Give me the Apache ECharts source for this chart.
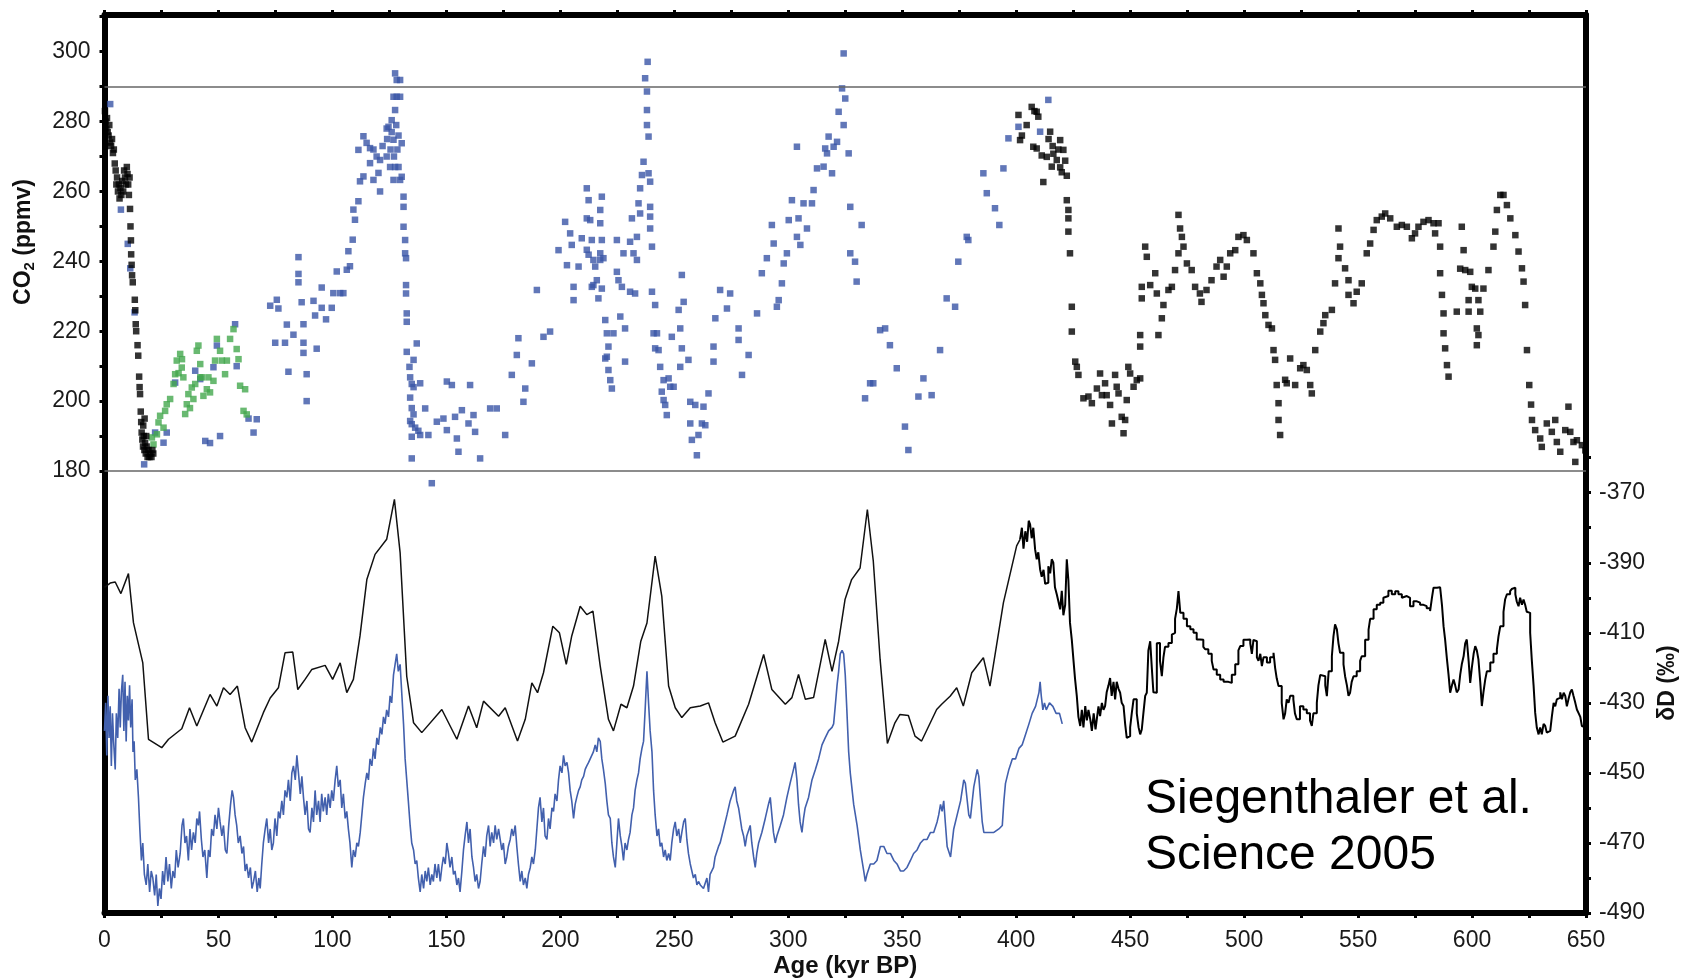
<!DOCTYPE html>
<html><head><meta charset="utf-8">
<script src="https://cdn.jsdelivr.net/npm/echarts@6/dist/echarts.min.js"></script>
<style>html,body{margin:0;padding:0;background:#fff}#c{width:1689px;height:980px}</style>
</head><body><div id="c"></div>
<script>
// ---- tick / label values ----
const xTickValues = [0,25,50,75,100,125,150,175,200,225,250,275,300,325,350,375,400,425,450,475,500,525,550,575,600,625,650];
const xLabelValues = [0,50,100,150,200,250,300,350,400,450,500,550,600,650];
const co2TickValues = [180,190,200,210,220,230,240,250,260,270,280,290,300,310];
const co2LabelValues = [180,200,220,240,260,280,300];
const dDTickValues = [-490,-480,-470,-460,-450,-440,-430,-420,-410,-400,-390,-380,-370,-360];
const dDLabelValues = [-490,-470,-450,-430,-410,-390,-370];
const co2RefLines = [290,180];

// ---- CO2 (ppmv): [age kyr BP, value] ----
const co2Holocene = [[0.2,283],[0.5,280],[0.8,278],[1.1,281],[1.4,277],[1.8,276],[2.1,279],[2.5,274],[2.9,273],[3.3,275],[3.7,271],[4.1,272],[4.5,268],[4.9,266],[5.2,262],[5.5,264],[5.9,260],[6.3,262],[6.6,258],[7,261],[7.4,259],[7.8,263],[8.2,260],[8.6,266],[9,264],[9.4,262],[9.8,267],[10.1,265],[10.4,262],[10.7,259],[11,264],[11.2,255],[11.4,250],[11.6,246],[11.7,242],[11.9,239],[12.1,236],[12.4,234],[13.3,229],[13.5,226],[13.7,222],[13.9,220],[14.5,216],[14.8,213],[15.2,207],[15.4,204],[15.6,202],[15.9,197],[16.1,194],[16.3,191],[16.6,189],[16.9,187],[17.2,190],[17.5,186],[17.8,188],[18.1,185],[18.5,187],[18.9,184],[19.3,186],[19.7,184],[20.1,185],[20.6,184],[21,186],[21.4,185],[17,193],[17.6,195],[18.3,190]];

const co2Epica = [[401,281.9],[404.6,279],[406.8,284.2],[408,283],[409,282.8],[409.7,281.4],[401.7,274.7],[402.5,276],[407.5,272.8],[409,272.3],[411.2,270.3],[411.9,262.7],[413.4,269.9],[414.2,275],[414.9,277.1],[416.3,270.8],[415.6,267.1],[417.8,269],[419.3,274.7],[420.7,271.9],[419.3,266.9],[421.5,268.8],[422.2,264.5],[420,265.5],[418.5,272],[416,273],[422.2,257.5],[422.9,254.7],[422.9,252.3],[422.9,248.5],[423.6,242.3],[424.4,227],[424.4,219.9],[425.9,211.3],[426.6,209.8],[427.3,207.5],[429.5,200.8],[431.7,201.3],[433.2,199.4],[435.4,203.6],[436.8,207.9],[437.6,201.7],[439.7,201.7],[439,205.1],[441.2,198.9],[442,193.6],[443.4,207.5],[444.1,204.1],[444.9,202.2],[446.3,195.5],[447.1,190.8],[447.8,194.6],[448.5,200.3],[449.2,209.8],[450,207.9],[451.5,204.1],[452.9,206],[454.4,206.5],[454.4,218.9],[454.4,215.6],[455.1,229.4],[455.1,232.7],[456.6,244.2],[457.3,241.3],[458.8,233.2],[461,236.6],[461.7,230.8],[462.4,218.9],[463.9,223.7],[464.6,227.5],[466.8,231.8],[468.3,232.7],[469.7,237.5],[471.2,242.3],[471.2,253.3],[471.9,249.4],[472.7,247],[473.4,244.2],[474.9,239.4],[477,237.5],[478.5,232.7],[480.6,230.8],[481.3,228.4],[483.5,231.8],[485.7,234.6],[487.9,238.5],[489.5,240.4],[491,235.6],[492.4,238.5],[493.9,242.3],[496.1,243.2],[497.5,247],[499.7,247.5],[501.2,246.1],[504.1,242.3],[505.6,236.6],[507.1,233.7],[507.8,230.4],[508.5,228],[509.3,224.6],[510.7,221.8],[512.2,220.8],[512.9,214.6],[513.6,211.8],[514.3,204.6],[515.1,199.4],[515.1,194.6],[515.8,190.3],[518,206.1],[518.7,205.1],[520.2,212.2],[522.4,204.6],[524.6,209.4],[526,210.3],[527.5,208.9],[529,204.6],[529.7,202.2],[531.2,214.6],[533.4,219.9],[534.8,222.3],[535.6,224.6],[538.5,226.1],[539.9,233.7],[541.4,249.4],[542.1,244.2],[541.4,240.9],[544.3,238],[545.8,234.6],[545.8,230.4],[548,228],[549.4,231.3],[551.6,233.7],[553.8,242.3],[555.3,245.1],[556.8,249],[558.2,251.8],[560.4,252.8],[561.9,253.7],[564.1,252.3],[567,249.9],[569.2,250.4],[571.4,249.9],[573.6,246.6],[575,248],[576.5,249.9],[578.7,251.3],[580.9,251.8],[583.1,250.9],[583.8,248],[585.3,250.9],[586,244.2],[586,236.6],[586.8,230.4],[587.5,225.1],[587.5,219.4],[588.2,215.1],[589,210.3],[589.7,207],[593.3,225.6],[595.5,249.9],[596.3,243.2],[594.8,237.9],[597,237.5],[599.2,237],[599.9,232.7],[601.4,232.2],[598.5,228.9],[598.5,225.6],[602.8,228.9],[603.6,225.6],[602.1,220.8],[602.8,218.9],[602.1,216],[605,232.2],[607.2,237.5],[609.4,244.2],[610.2,248.5],[610.9,254.7],[612.4,259],[613.8,259],[615.3,256.1],[616.8,252.3],[619,247.5],[620.4,242.8],[621.9,238],[622.6,234.2],[623.3,227.5],[624.1,214.6],[625.1,204.6],[625.9,199],[626.3,194.6],[627.7,191.7],[629.9,189.3],[630.6,186.9],[632.8,193.6],[635,191.2],[636.5,194.6],[637.2,188.3],[638.7,185.5],[640.9,191.7],[642.3,198.4],[643.1,191.2],[644.5,188.3],[645.3,182.6],[646,188.8],[648.2,187.4],[649.7,185.9]];

const co2Vostok = [[2.5,285],[7.2,254.8],[10.2,245],[11.3,238],[13.2,225.4],[17.4,181.9],[22.2,191],[25.9,188.1],[27.3,191],[31,205.3],[39.8,208.7],[42,206.3],[44.2,188.6],[46.3,188],[50.7,190],[49.3,215.9],[47.8,209.7],[57.3,222],[58,210],[63.2,195],[65.4,191],[66.8,194.8],[72.7,227.3],[75.6,229],[76.3,226.5],[74.9,216.7],[79.2,216.7],[80,221.9],[82.9,219],[80.7,208.4],[85.1,241.2],[85.1,236.4],[85.1,234],[86.5,228.3],[87.3,222],[88.7,207.7],[88.7,200],[87.3,216.7],[87.3,213.8],[91.7,228.7],[92.4,224.5],[93.1,215],[95.3,232.5],[95.3,226.7],[97.2,223.4],[99.7,226.7],[100.4,230.9],[101.9,237.1],[103.4,230.9],[104.8,230.9],[106.3,237.6],[107.7,238.6],[107,242.9],[108.9,246.2],[109.9,251.9],[109.2,254.8],[111.4,257.2],[112.1,262.9],[113.6,264.3],[111.4,271.9],[113.6,275.8],[115,273.9],[116.5,272.4],[118,272],[119.4,270],[120.9,269],[116.5,268.1],[120.2,265.3],[120.9,260],[118,263.3],[123.8,278],[124.6,278.5],[126,280.4],[127.5,283.3],[126.8,287.1],[128.2,287.1],[127.5,293.8],[128.2,291.9],[126.8,274.8],[123.8,270],[125.3,267],[127.5,267],[129,267],[129.7,263.3],[126.8,263.3],[122,273],[124,275],[125.5,272],[127,270],[128.5,272],[129,276],[128,279],[126,277],[129.7,291.9],[129.7,287.1],[130.4,273.8],[130.4,264.2],[131.2,258.5],[131.2,255.6],[131.2,249.9],[131.9,246.1],[131.9,242.3],[132.3,240.9],[132.3,233.2],[132.3,230.8],[132.6,225.1],[132.6,222.7],[132.6,214.1],[137,216.5],[135.6,211.8],[133.8,209.8],[134.1,206.8],[134.8,204.9],[135.6,204],[134.1,201],[134.8,198],[135.6,196.2],[134.1,194.3],[134.8,193.4],[136.3,192.4],[137.7,191.5],[138.5,205.1],[134.8,189.8],[134.8,183.6],[138.5,190.3],[142.1,190.3],[143.6,176.5],[140.7,197.9],[145.8,194.1],[148.7,195],[150.2,205.6],[152.4,204.6],[150.2,191.7],[153.8,195.5],[154.6,189.3],[155.3,185.5],[156.8,197.4],[159.7,193.6],[160.4,204.6],[161.9,196],[162.6,191.2],[164.8,183.6],[169.2,197.9],[172.1,197.9],[175.8,190.3],[178.7,207.5],[180.9,213.2],[181.6,218],[184.6,203.6],[183.8,199.8],[187.5,210.8],[189.7,231.8],[192.6,218.4],[195.5,219.9],[199.2,243.2],[202.1,251.3],[204.3,248],[205,244.7],[202.9,238.9],[205.8,232.7],[205.8,228.9],[208,238.5],[209.4,246.6],[211.6,260.9],[212.4,257.5],[211.6,252.3],[213.1,251.8],[211.6,243.3],[212.4,241.9],[213.8,246.1],[214.5,240.4],[215.3,238.5],[214.5,233.2],[213.8,232.7],[216,234.6],[216.7,229.4],[217.5,242.3],[218.2,258.5],[217.5,254.7],[217.5,250.9],[218.2,246.1],[217.5,240.4],[218.9,240.9],[218.2,232.2],[219.7,223.2],[220.4,219.4],[221.1,215.6],[220.4,212.7],[221.1,208.9],[221.9,206],[222.6,203.6],[223.3,219.4],[219.7,212.2],[224.8,246.1],[226.3,224.2],[227.7,242.3],[228.4,220.8],[228.4,211.3],[224.8,237],[225.5,234.6],[227,232.7],[230.6,231.3],[230.6,245.6],[231.4,252.3],[232.1,242.3],[232.8,230.8],[233.6,247],[233.6,240.4],[234.3,256.6],[235,253.7],[235,260.9],[235.8,264.7],[236.5,268.5],[238,283.3],[238.7,275.7],[238,279],[238,288.6],[237.2,292.4],[238.3,297.1],[238.7,265.2],[239.4,262.8],[239.4,255.6],[239.4,252.8],[239.4,249.4],[240.2,244.2],[240.2,231.3],[241.6,227.5],[240.9,219.4],[241.6,215.1],[243.1,214.6],[242.4,219.4],[243.8,209.8],[245.3,206],[244.5,202.7],[245.3,200.3],[246,198.9],[246.7,196],[247.5,206.5],[248.2,204.1],[249.7,204.1],[248.9,218.4],[251.9,226.1],[252.6,220.8],[254.1,228.4],[253.3,215.1],[252.6,209.8],[256.2,211.8],[253.3,236.1],[257,199.8],[257,193.6],[257.7,188.9],[259.2,198.9],[259.9,184.5],[260.6,190.3],[262.1,193.6],[262.8,198.4],[263.6,193.1],[265,202.2],[267.2,211.3],[267.2,215.6],[268,223.7],[270.1,231.8],[274.5,230.8],[273.1,226.5],[278.2,220.8],[278.2,217.5],[279.7,207.5],[282.6,213.2],[286.3,225.1],[288.4,236.6],[290.6,240.9],[292.8,250.4],[293.6,245.1],[295,227],[295.8,228.9],[297.2,233.7],[298,239.4],[299.4,242.3],[300.2,251.8],[301.6,257.5],[304.5,252.3],[303.8,247],[305.3,244.7],[308.2,249.4],[306.7,256.6],[310.4,256.6],[311.1,260.4],[312.6,266.6],[315.5,267.1],[317,270.9],[316.2,272.3],[319.9,272.8],[321.4,274.2],[319.2,265.2],[303.8,272.8],[317.7,275.7],[322.1,282.8],[324.3,279],[325,286.6],[323.6,289.5],[324.3,299.5],[326.5,270.9],[327.2,255.6],[327.2,242.3],[332.2,250.4],[329.3,239.9],[330,234.2],[340.3,220.3],[342.5,220.8],[344.6,216],[347.6,209.4],[335.9,205.1],[333.7,200.8],[337.3,205.1],[351.2,192.7],[352.7,186],[357.1,201.3],[359.3,206.5],[362.9,201.7],[366.6,214.6],[369.5,229.4],[373.2,227],[374.6,239.9],[379,246.1],[378.3,247],[385.6,265.2],[387.1,259.5],[390.7,255.2],[392.6,250.4],[394.4,266.6],[396.6,275.2],[401,278.5],[410.5,277.1],[414.1,286.2]];

const co2Green = [[20.8,189.6],[21.5,187.6],[23,190.5],[23.7,193.9],[24.4,195.8],[25.9,192.4],[26.6,197.2],[27.3,199.1],[28.8,200.6],[30.3,204.9],[31,207.7],[31.7,211.6],[33.2,213.5],[33.9,209.6],[34.6,206.8],[35.4,196.3],[36.1,199.1],[36.8,202],[38.3,203.9],[39,200.6],[39.8,204.9],[40.5,214.4],[41.2,215.9],[42,210.6],[42.7,206.8],[43.4,201.5],[44.9,203.4],[45.6,206.8],[46.3,202.5],[47.8,205.8],[48.5,211.6],[49.3,217.8],[50.7,214.4],[51.5,211.6],[52.9,207.7],[53.7,211.6],[55.1,217.8],[56.6,220.6],[58,214.9],[58.8,212],[59.5,204.4],[61.7,203.4],[61,197.2],[62.4,196.2],[42,206.8],[32.5,208],[34,212],[37.5,198]];

// ---- deltaD (permil): [age kyr BP, value] ----
const dDEpicaSmooth = [[0,-397],[0.7,-396.7],[2.5,-395.8],[4.7,-395.5],[7.2,-398.8],[10.5,-393.1],[12.7,-407.1],[16.8,-418.6],[19.3,-440.4],[25.1,-442.8],[28.1,-440.4],[33.9,-437.4],[37.3,-431.4],[40.5,-436.6],[46.3,-427.6],[49.3,-430.9],[52.2,-425.7],[55.1,-427.6],[58.3,-425.2],[61.7,-437.1],[64.6,-441.2],[69.7,-432.8],[72.7,-428.6],[76.3,-425.7],[79.2,-415.7],[82.6,-415.5],[84.8,-426.2],[88,-423.3],[90.9,-420.5],[96.8,-419.3],[100.1,-423.3],[103.4,-418.6],[106.3,-427.1],[109.2,-423.3],[112.1,-410.9],[115.1,-394.8],[118.7,-387.6],[123.8,-383.3],[127.2,-371.9],[129.7,-387.1],[132.6,-422.4],[135.6,-435.7],[139.2,-438.5],[148,-431.9],[154.6,-440.4],[159.7,-430.9],[163.3,-437.1],[166.3,-429.5],[172.9,-433.8],[175.8,-431.4],[181.2,-440.9],[184.6,-434.7],[187.5,-424.3],[190,-427.1],[192.6,-421.4],[196.7,-408.1],[199.6,-410],[202.6,-419],[205,-410.9],[208.7,-402.4],[211.6,-404.8],[214.3,-403.8],[217.5,-419.5],[221.1,-434.7],[223.3,-438],[226.6,-430.4],[229.2,-431.4],[232.1,-425.2],[235.3,-412.4],[238,-407.2],[241.6,-388.1],[244.5,-399.5],[247.5,-425.2],[250.4,-431.4],[253.3,-434.2],[257,-431.4],[261.4,-430.9],[265,-430],[267.9,-435.7],[271.3,-441.2],[276.7,-439.5],[282.6,-430.4],[289.2,-416.2],[292.8,-426.2],[298.7,-430.4],[301.6,-428.5],[304.5,-421.9],[307.5,-429],[311.1,-428.5],[316.2,-411.9],[319.2,-421],[322.1,-412.4],[324.9,-400.5],[327.8,-394.8],[331.5,-391.5],[334.7,-374.8],[337.3,-389.5],[340.3,-417.6],[343.5,-441.6],[346.8,-435.7],[349,-433.3],[352.7,-433.6],[355.6,-439.5],[358.5,-440.9],[365.1,-431.9],[367.3,-430.4],[371,-428.1],[373.9,-425.7],[376.8,-430.9],[380.5,-421.4],[385.6,-417.1],[388.5,-425.2],[394.4,-401.4],[400.2,-385.2],[401.7,-383.3]];

const dDEpicaStep = [[401.7,-383.3],[402.5,-380],[403.2,-386],[404,-381],[404.8,-384],[405.5,-378],[406.1,-379],[406.8,-383],[407.5,-380],[408.3,-386.2],[409,-389],[409.7,-387],[410.5,-391.9],[411.2,-394],[412,-392],[412.7,-396],[413.4,-395.7],[414.1,-391],[414.9,-393],[415.6,-389],[416.3,-390],[417,-397],[417.8,-399],[418.5,-401],[419.3,-403.3],[420,-398],[420.7,-405],[421.5,-402],[422.2,-389],[422.9,-395],[423.6,-407.1],[424.4,-412],[425.1,-417.6],[425.8,-423],[426.6,-428.1],[427.3,-434],[428.1,-436.6],[428.8,-432],[429.5,-437],[430.3,-430.9],[431,-435],[431.7,-432],[432.5,-434.7],[433.2,-438],[434,-433],[434.8,-437.6],[435.5,-434],[436.1,-431],[436.8,-433.8],[437.6,-430],[438.3,-432],[439,-430.9],[439.7,-427],[440.5,-425],[441.2,-422.9],[441.9,-428],[442.7,-424],[443.4,-429],[444.1,-424],[444.9,-426],[445.6,-427.1],[446.3,-430],[447.1,-430.9],[447.8,-436],[448.5,-440],[449.2,-439.5],[450,-437],[450.7,-433],[451.5,-429],[452.9,-433],[453.7,-437],[454.4,-439],[455.1,-437.6],[455.8,-433],[456.6,-428],[457.3,-427.1],[458,-415],[458.8,-412.4],[459.5,-420],[460.2,-427],[461,-427.1],[461.7,-413],[462.4,-412.9],[463.1,-418],[463.9,-422.4],[464.6,-417],[465.3,-414],[466.8,-412.9],[468.3,-410.5],[469,-410],[469.7,-406],[470.5,-403],[471.2,-398.1],[472,-404.3],[473.4,-406],[474.9,-408.1],[476.4,-409],[477.8,-410],[479.2,-411.9],[480.6,-412],[482.1,-414],[482.9,-414.7],[484.3,-416],[485.8,-418],[486.6,-420.5],[488,-422],[489.5,-423.3],[491,-424],[493.1,-424.3],[494.6,-422],[496.1,-419],[497.5,-415],[498.3,-413.8],[499.7,-412],[501.2,-411.9],[502.7,-413],[503.4,-416],[504.1,-412],[504.8,-412.4],[505.6,-417],[506.3,-418],[507.1,-416],[507.8,-419.5],[508.5,-417],[510,-418.5],[511.4,-417],[512.9,-415.7],[513.6,-420],[514.3,-423],[515.1,-425.2],[516.5,-430],[517.3,-434.7],[518,-433],[518.7,-429],[519.5,-430],[520.2,-428],[521.6,-429],[522.3,-433],[523.1,-434.7],[524.5,-431],[526,-431.9],[527.5,-433],[528.9,-435],[529.7,-436.6],[530.4,-433],[531.9,-430],[532.6,-425],[533.4,-422],[534.1,-422.4],[535.6,-425],[536.3,-428.1],[537.1,-421],[538.5,-416.7],[539.2,-411],[539.9,-407.6],[540.7,-409],[541.4,-413],[542.1,-415.7],[543.6,-419],[544.3,-422.4],[545.1,-425],[545.8,-428],[546.5,-427.1],[547.2,-424],[548,-422.4],[549.4,-421],[550.9,-418],[551.6,-416.7],[553.1,-412],[554.6,-409.1],[555.3,-406],[556.8,-403.3],[558.2,-402],[559.7,-401.4],[561.1,-400],[561.9,-399.5],[563.3,-398],[564.8,-399],[566.3,-398.1],[567.7,-399],[569.2,-400],[569.9,-399.5],[571.4,-400],[572.8,-402.4],[574.3,-401],[575.8,-401.4],[577.2,-402],[578.7,-402.4],[580.1,-403],[581.6,-403.8],[582.4,-400],[583.1,-397.1],[584.6,-397],[586,-397.1],[586.8,-402],[587.5,-408.1],[588.2,-412],[589,-417.6],[589.7,-422],[590.4,-427.1],[591.2,-425],[591.9,-423.3],[592.6,-425],[593.3,-427],[594.1,-426.2],[594.8,-422],[595.5,-419],[596.3,-416.7],[597,-413],[597.7,-411.9],[598.5,-418],[599.2,-424.3],[599.9,-420],[600.7,-416],[601.4,-413.8],[602.1,-415],[602.8,-417.6],[603.6,-424],[604.3,-430.9],[605,-427],[605.8,-423.3],[606.5,-421],[608,-418.5],[609.4,-416],[610.9,-414.7],[611.6,-411],[612.4,-408.1],[613.8,-404],[614.5,-400.5],[615.3,-399],[616.7,-398.1],[617.4,-397.5],[618.2,-397.1],[619,-399],[619.6,-401],[620.4,-402.4],[621.1,-400],[621.9,-402],[622.6,-400.5],[623.3,-402],[624,-404],[624.8,-404.3],[625.5,-410],[626.2,-417.6],[627,-425],[627.7,-432.8],[628.4,-437],[629.2,-439],[629.9,-437],[630.6,-439],[631.4,-436],[632.1,-436.6],[632.8,-438.5],[633.6,-438],[634.3,-438.5],[635,-434],[635.8,-430],[636.5,-431],[637.2,-429],[637.9,-428.5],[638.7,-427],[639.4,-429],[640.2,-427.1],[640.9,-428],[641.6,-431],[642.3,-429],[643.1,-427],[643.8,-426.2],[644.5,-428],[645.3,-430],[646,-431.9],[646.8,-433],[647.5,-434],[648.2,-436.6],[649,-437],[649.7,-438.5],[650,-438.5]];

const dDVostok = [[0,-438],[0.5,-430],[1,-445],[1.5,-428],[2,-440],[2.5,-431],[3,-448],[3.5,-433],[4,-441],[4.7,-449],[5.2,-433],[5.8,-440],[6.4,-426],[6.9,-437],[7.4,-427],[8,-422],[8.5,-438],[9,-424],[9.5,-441],[10,-428],[10.5,-435],[11,-425],[11.5,-437],[12.1,-429],[12.5,-444],[13,-441],[13.5,-452],[14.2,-449],[14.9,-457],[15.5,-466],[16.2,-475],[16.8,-470],[17.5,-479],[18.3,-482],[19,-476],[19.8,-484],[20.5,-478],[21.2,-480],[22,-485],[22.7,-479],[23.4,-488],[24.1,-483],[24.8,-486],[25.5,-478],[26.2,-482],[27,-474],[27.8,-481],[28.5,-476],[29.3,-483],[30,-478],[30.8,-480],[31.5,-472],[32.3,-477],[33.2,-473],[34,-465],[34.6,-463],[35.3,-470],[36,-468],[36.8,-475],[37.5,-466],[38.2,-472],[39,-467],[39.8,-470],[40.5,-463],[41.2,-465],[41.7,-461],[42.5,-469],[43.2,-474],[44,-472],[44.9,-480],[45.6,-472],[46.3,-474],[47,-466],[47.8,-468],[48.5,-462],[49.3,-466],[50,-460],[50.7,-464],[51.5,-468],[52.2,-465],[53,-472],[53.7,-473],[54.5,-465],[55.3,-459],[56,-455],[56.6,-457],[57.3,-462],[58,-465],[58.7,-470],[59.5,-468],[60.3,-473],[61,-471],[61.7,-478],[62.4,-476],[63.2,-480],[64,-477],[64.7,-483],[65.4,-481],[66.2,-478],[67,-484],[67.7,-480],[68.3,-483],[69,-476],[69.7,-470],[70.5,-466],[71.2,-463],[72,-470],[72.7,-466],[73.4,-472],[74.1,-470],[74.8,-463],[75.6,-468],[76.3,-461],[77,-463],[77.8,-458],[78.5,-462],[79.2,-455],[80,-457],[80.7,-452],[81.5,-458],[82.2,-450],[82.9,-448],[83.7,-452],[84.4,-445],[85.1,-450],[85.9,-456],[86.6,-451],[87.3,-457],[88,-462],[88.8,-458],[89.5,-466],[90.2,-467],[91,-460],[91.7,-464],[92.4,-455],[93.1,-462],[93.9,-458],[94.6,-464],[95.3,-456],[96,-461],[96.8,-457],[97.5,-462],[98.2,-456],[99,-460],[99.7,-455],[100.4,-458],[101.2,-452],[101.9,-448],[102.6,-454],[103.4,-452],[104.1,-460],[104.8,-456],[105.6,-463],[106.3,-461],[107,-466],[107.7,-470],[108.5,-477],[109.2,-472],[110,-474],[110.7,-470],[111.4,-471],[112.2,-467],[112.9,-462],[113.6,-457],[114.4,-453],[115.1,-450],[115.8,-452],[116.5,-446],[117.3,-448],[118,-443],[118.7,-446],[119.5,-440],[120.2,-442],[121,-437],[121.7,-439],[122.4,-434],[123.1,-436],[123.8,-432],[124.6,-434],[125.3,-428],[126,-430],[126.8,-422],[127.5,-419],[128.2,-416],[128.9,-421],[129.7,-419],[130.4,-427],[131.2,-436],[131.9,-446],[132.6,-452],[133.3,-458],[134.1,-465],[134.8,-470],[135.6,-472],[136.3,-476],[137,-475],[137.7,-480],[138.5,-484],[139.2,-479],[140,-483],[140.7,-478],[141.4,-481],[142.1,-477],[142.9,-482],[143.6,-479],[144.3,-481],[145,-476],[145.8,-480],[146.5,-476],[147.3,-481],[148,-477],[148.7,-474],[149.5,-476],[150.2,-470],[150.9,-473],[151.6,-477],[152.4,-474],[153.1,-479],[153.8,-478],[154.6,-482],[155.3,-480],[156,-484],[156.8,-478],[157.5,-472],[158.2,-468],[159,-464],[159.7,-470],[160.4,-466],[161.2,-474],[161.9,-477],[162.6,-481],[163.3,-479],[164.1,-483],[164.8,-481],[165.5,-476],[166.3,-471],[167,-474],[167.7,-468],[168.5,-465],[169.2,-471],[169.9,-467],[170.7,-470],[171.4,-465],[172.1,-469],[172.9,-466],[173.6,-469],[174.3,-472],[175,-470],[175.8,-476],[176.5,-474],[177.2,-471],[178,-469],[178.7,-466],[179.4,-468],[180.2,-465],[180.9,-471],[181.6,-476],[182.4,-481],[183.1,-478],[183.8,-482],[184.6,-480],[185.3,-483],[186,-479],[186.8,-477],[187.5,-474],[188.2,-476],[189,-472],[189.7,-466],[190.4,-460],[191.1,-457],[191.9,-464],[192.6,-460],[193.3,-468],[194.1,-469],[194.8,-463],[195.5,-466],[196.3,-460],[197,-461],[197.7,-456],[198.5,-458],[199.2,-452],[199.9,-448],[200.7,-450],[201.4,-445],[202.1,-448],[202.9,-447],[203.6,-450],[204.3,-455],[205,-458],[205.8,-463],[206.5,-459],[207.2,-457],[208,-455],[208.7,-454],[209.4,-452],[210.2,-451],[210.9,-449],[211.6,-448],[212.4,-447],[213.1,-446],[214.5,-444],[215.3,-442],[216,-444],[216.7,-440],[217.5,-441],[218.2,-446],[218.9,-449],[219.7,-453],[220.4,-458],[221.1,-462],[221.9,-463],[222.6,-470],[223.3,-474],[224.1,-477],[224.8,-470],[225.5,-463],[226.3,-468],[227,-471],[227.7,-475],[228.4,-470],[229.2,-472],[229.9,-469],[230.6,-467],[231.4,-462],[232.1,-460],[232.8,-455],[233.6,-452],[234.3,-450],[235,-446],[235.8,-443],[236.5,-441],[237.2,-432],[238,-421],[238.7,-430],[239.4,-438],[240.2,-444],[240.9,-455],[241.6,-462],[242.4,-468],[243.1,-466],[243.8,-471],[244.5,-470],[245.3,-474],[246,-472],[246.7,-475],[247.5,-473],[248.2,-475],[248.9,-470],[249.7,-466],[250.4,-464],[251.1,-468],[251.9,-466],[252.6,-470],[253.3,-467],[254.1,-464],[254.8,-463],[255.5,-469],[256.2,-473],[257,-476],[257.7,-478],[258.4,-480],[259.2,-479],[259.9,-482],[260.6,-481],[261.4,-482],[262.8,-483],[264.3,-480],[265,-484],[265.7,-479],[267.2,-477],[267.9,-474],[269.4,-471],[270.1,-470],[271.6,-466],[273.1,-462],[274.5,-458],[276,-455],[276.7,-454],[277.4,-458],[278.2,-460],[278.9,-463],[279.6,-466],[280.4,-468],[281.1,-471],[281.8,-468],[283.3,-465],[284,-470],[284.8,-474],[285.5,-477],[286.2,-473],[287,-470],[288.4,-467],[289.9,-463],[291.3,-459],[292.1,-457],[292.8,-462],[293.5,-467],[294.3,-470],[295,-468],[296.5,-465],[297.9,-462],[299.4,-457],[300.8,-453],[302.3,-449],[303,-447],[303.8,-452],[304.5,-459],[305.2,-464],[306,-467],[306.7,-463],[307.4,-460],[308.9,-457],[310.4,-452],[311.9,-449],[313.3,-446],[314.8,-442],[316.2,-440],[317.7,-438],[319.2,-437],[319.9,-436],[320.6,-431],[321.4,-425],[322.1,-421],[322.8,-416],[323.6,-415],[324.3,-416],[325,-422],[325.7,-432],[326.5,-444],[327.2,-450],[328.7,-459],[330.2,-465],[331.6,-472],[333.1,-478],[333.8,-481],[334.5,-479],[336,-476],[337.5,-476],[338.9,-475],[340.4,-471],[341.9,-471],[343.3,-473],[344.8,-473],[346.3,-475],[347.7,-476],[349.2,-478],[350.6,-478],[352.1,-477],[353.6,-475],[355,-473],[356.5,-472],[358,-470],[359.4,-469],[360.9,-469],[362.4,-467],[363.8,-467],[365.3,-464],[366,-462],[366.8,-459],[367.5,-461],[368.2,-458],[369,-465],[369.7,-471],[371.2,-474],[372.6,-466],[374.1,-462],[375.6,-458],[377,-452],[377.7,-453],[379.2,-462],[379.9,-463],[381.4,-454],[382.9,-449],[383.6,-451],[385.1,-464],[385.8,-467],[388,-467],[390.2,-467],[392.4,-466],[393.9,-465],[394.6,-458],[395.3,-453],[396.8,-449],[398.3,-446],[399.7,-446],[401.2,-443],[402.6,-442],[404.1,-439],[405.6,-436],[407,-433],[408.5,-431],[410,-427],[410.5,-424],[411,-428],[411.7,-432],[412.4,-430],[413.2,-432],[414.6,-430],[416.1,-431],[417.5,-433],[419,-433],[420.2,-436]];

const FONT = '"Liberation Sans", Arial, Helvetica, sans-serif';
const axisLineStyle = {color:'#000', width:6};
const tickStyle = {color:'#000', width:3};

const chart = echarts.init(document.getElementById('c'), null, {renderer:'canvas'});
const option = {
  animation:false,
  backgroundColor:'#fff',
  grid:{left:104.5, right:103, top:15, bottom:67, containLabel:false, outerBoundsMode:'none'},
  xAxis:[
    {type:'value', min:0, max:650, position:'bottom',
     axisLine:{show:true, onZero:false, lineStyle:axisLineStyle},
     axisTick:{show:true, inside:false, length:5, lineStyle:tickStyle, customValues:xTickValues},
     axisLabel:{show:true, customValues:xLabelValues, margin:16, fontSize:23, color:'#1a1a1a', fontFamily:FONT},
     splitLine:{show:false},
     name:'Age (kyr BP)', nameLocation:'middle', nameGap:41, nameMoveOverlap:false,
     nameTextStyle:{fontSize:24, fontWeight:'bold', color:'#111', fontFamily:FONT}},
    {type:'value', min:0, max:650, position:'top',
     axisLine:{show:true, onZero:false, lineStyle:axisLineStyle},
     axisTick:{show:true, inside:false, length:5, lineStyle:tickStyle, customValues:xTickValues},
     axisLabel:{show:false}, splitLine:{show:false}}
  ],
  yAxis:[
    {type:'value', min:53.5, max:310.5, position:'left',
     axisLine:{show:true, onZero:false, lineStyle:axisLineStyle},
     axisTick:{show:true, inside:false, length:5, lineStyle:tickStyle, customValues:co2TickValues},
     axisLabel:{show:true, customValues:co2LabelValues, margin:14, fontSize:23, color:'#1a1a1a', fontFamily:FONT},
     splitLine:{show:false}},
    {type:'value', min:-490, max:-233.6, position:'right',
     axisLine:{show:true, onZero:false, lineStyle:axisLineStyle},
     axisTick:{show:true, inside:false, length:5, lineStyle:tickStyle, customValues:dDTickValues},
     axisLabel:{show:true, customValues:dDLabelValues, margin:13, fontSize:23, color:'#1a1a1a', fontFamily:FONT},
     splitLine:{show:false}}
  ],
  graphic:[
    {type:'text', x:24, y:242, rotation:Math.PI/2, z:10,
     style:{text:'{a|CO}{b|2}{a| (ppmv)}', align:'center', verticalAlign:'middle',
       rich:{a:{fontSize:23, fontWeight:'bold', fontFamily:FONT, fill:'#111'},
             b:{fontSize:15, fontWeight:'bold', fontFamily:FONT, fill:'#111', padding:[12,0,0,0]}}}},
    {type:'text', x:1668, y:683, rotation:Math.PI/2, z:10,
     style:{text:'δD (‰)', align:'center', verticalAlign:'middle', fontSize:23, fontWeight:'bold', fontFamily:FONT, fill:'#111'}},
    {type:'text', x:1145, y:772, z:10,
     style:{text:'Siegenthaler et al.\nScience 2005', fontSize:48, fontFamily:FONT, fill:'#000', lineHeight:56, align:'left', verticalAlign:'top'}}
  ],
  series:[
    {type:'line', name:'Vostok dD', xAxisIndex:0, yAxisIndex:1, data:dDVostok, symbol:'none', showSymbol:false,
     lineStyle:{color:'#4260ad', width:1.6}, z:2},
    {type:'line', name:'EPICA dD', xAxisIndex:0, yAxisIndex:1, data:dDEpicaSmooth, symbol:'none', showSymbol:false,
     lineStyle:{color:'#111', width:1.5}, z:2},
    {type:'line', name:'EPICA dD step', xAxisIndex:0, yAxisIndex:1, data:dDEpicaStep, step:'end', symbol:'none', showSymbol:false,
     lineStyle:{color:'#000', width:2}, z:2},
    {type:'scatter', name:'Vostok CO2', xAxisIndex:0, yAxisIndex:0, data:co2Vostok, symbol:'rect', symbolSize:6.5, clip:false,
     itemStyle:{color:'#3a55a6'}, z:4,
     markLine:{silent:true, symbol:['none','none'], label:{show:false},
       lineStyle:{color:'#666', width:1.6, type:'solid'},
       data:co2RefLines.map(v=>({yAxis:v}))}},
    {type:'scatter', name:'Taylor Dome CO2', xAxisIndex:0, yAxisIndex:0, data:co2Green, symbol:'rect', symbolSize:6.5, clip:false,
     itemStyle:{color:'#43a84d'}, z:4},
    {type:'scatter', name:'Dome C Holocene CO2', xAxisIndex:0, yAxisIndex:0, data:co2Holocene, symbol:'rect', symbolSize:6.5, clip:false,
     itemStyle:{color:'#000'}, z:5},
    {type:'scatter', name:'EPICA CO2', xAxisIndex:0, yAxisIndex:0, data:co2Epica, symbol:'rect', symbolSize:6.5, clip:false,
     itemStyle:{color:'#000'}, z:5}
  ]
};
chart.setOption(option);
</script></body></html>
